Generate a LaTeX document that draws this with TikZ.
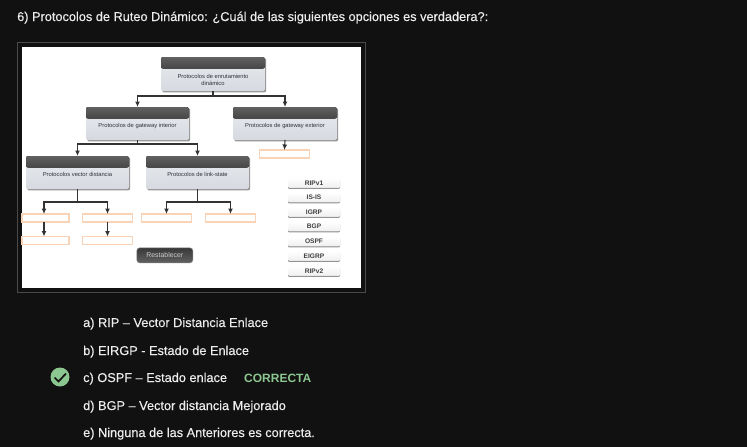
\documentclass[tikz,border=0pt]{standalone}
\usepackage{fontspec}
\setmainfont{Liberation Sans}
\newfontfamily\uifont[FakeBold=0.25]{Liberation Sans}
\usetikzlibrary{arrows.meta,shadings,fadings}
\definecolor{pagebg}{HTML}{111111}
\definecolor{frameline}{HTML}{4A4A4A}
\definecolor{okgreen}{HTML}{8CC690}
\definecolor{inktext}{HTML}{EDEDED}
\definecolor{diagramtext}{HTML}{2E3138}
\definecolor{slotedge}{HTML}{F9D3B8}
\definecolor{bodytop}{HTML}{E8EAEE}
\definecolor{bodybottom}{HTML}{D6DAE0}
\tikzset{
  x=1pt,y=-1pt,
  titlebox/.style={inner sep=0pt,outer sep=0pt,rounded corners=2pt,anchor=north west,
    preaction={fill=black!60,opacity=.7,transform canvas={xshift=1.2pt,yshift=-1.4pt}},
    top color=bodytop,bottom color=bodybottom,
    path picture={\fill[top color=black!62,bottom color=black!92]
      (path picture bounding box.north west) rectangle
      ([yshift=-11.5pt]path picture bounding box.north east);}},
  slot/.style={draw=slotedge,line width=1.5pt,fill=white,inner sep=0pt,outer sep=0pt,anchor=north west},
  tag/.style={inner sep=0pt,outer sep=0pt,anchor=north west,rounded corners=1pt,fill=white,
    top color=white,bottom color=black!6,
    preaction={fill=black!60,opacity=.7,transform canvas={yshift=-1.4pt}},
    font=\fontsize{6.6}{7}\selectfont\bfseries,text=black!75},
  small/.style={font=\fontsize{5.8}{7.2}\selectfont,text=diagramtext,align=center,inner sep=0pt},
  conn/.style={draw=black!80,line width=1.1pt},
  arrowed/.style={conn,-{Latex[length=5.5pt,width=5pt]}},
  qtext/.style={anchor=base west,inner sep=0pt,text=inktext,font=\uifont\fontsize{12.75}{14}\selectfont},
}
\begin{document}
\begin{tikzpicture}
\useasboundingbox (0,0) rectangle (747,447);
\fill[pagebg] (0,0) rectangle (747,447);
\node[qtext] (q) at (17,21) {6) Protocolos de Ruteo Dinámico: ¿Cuál de las siguientes opciones es verdadera?:};
\fill[white] (22,47) rectangle (361,288);
\draw[frameline,line width=1pt] (17.5,42.5) rectangle (365.5,292.5);

\node[slot,minimum width=47pt,minimum height=8pt] (s1) at (22,214) {};
\node[slot,minimum width=50pt,minimum height=8pt] (s2) at (82.5,214) {};
\node[slot,minimum width=50pt,minimum height=8pt] (s3) at (141.5,214) {};
\node[slot,minimum width=50pt,minimum height=8pt] (s4) at (205.5,214) {};
\node[slot,minimum width=47pt,minimum height=8pt] (s5) at (22,236.5) {};
\node[slot,minimum width=50pt,minimum height=8pt] (s6) at (82.5,236.5) {};
\node[slot,minimum width=50pt,minimum height=8pt] (s0) at (259.5,150) {};

\node[titlebox,minimum width=104pt,minimum height=34pt] (top) at (161,57) {};
\node[titlebox,minimum width=103pt,minimum height=33pt] (int) at (86,107) {};
\node[titlebox,minimum width=104pt,minimum height=33pt] (ext) at (233,107) {};
\node[titlebox,minimum width=103pt,minimum height=33pt] (vec) at (26,156) {};
\node[titlebox,minimum width=103pt,minimum height=33pt] (lnk) at (146,156) {};
\node[small] (topt) at (213,80) {Protocolos de enrutamiento\\dinámico};
\node[small] (intt) at (137.5,125.5) {Protocolos de gateway interior};
\node[small] (extt) at (285,125.5) {Protocolos de gateway exterior};
\node[small] (vect) at (77.5,174) {Protocolos vector distancia};
\node[small] (lnkt) at (197.5,174) {Protocolos de link-state};

\draw[conn] (top.south) -- ++(0,5) coordinate (b1);
\draw[arrowed] (b1) -| (int.north);
\draw[arrowed] (b1) -| (ext.north);
\draw[conn] (int.south) -- ++(0,4) coordinate (b2);
\draw[arrowed] (b2) -| (vec.north);
\draw[arrowed] (b2) -| (lnk.north);
\draw[arrowed] (ext.south) -- (s0.north);
\draw[conn] (vec.south) -- ++(0,13) coordinate (b3);
\draw[arrowed] (b3) -| ([xshift=-1.5pt]s1.north);
\draw[arrowed] (b3) -| (s2.north);
\draw[conn] (lnk.south) -- ++(0,13) coordinate (b4);
\draw[arrowed] (b4) -| (s3.north);
\draw[arrowed] (b4) -| (s4.north);
\draw[arrowed] ([xshift=-1.5pt]s1.south) -- ([xshift=-1.5pt]s5.north);
\draw[arrowed] (s2.south) -- (s6.north);

\node[anchor=north west,inner sep=0pt,rounded corners=3pt,draw=black!50,line width=.6pt,
  top color=black!78,bottom color=black!62,minimum width=56pt,minimum height=15pt,
  text=white!80!black,font=\fontsize{6.9}{8}\selectfont] (reset) at (136.5,247.5) {Restablecer};

\foreach \n/\t/\yy in {t1/RIPv1/178,t2/IS-IS/192.5,t3/IGRP/207,t4/BGP/221.5,t5/OSPF/236.5,t6/EIGRP/251,t7/RIPv2/266}{
  \node[tag,minimum width=52pt,minimum height=9.5pt] (\n) at (288,\yy) {\t};
}

\node[qtext] (a) at (83,327) {a) RIP – Vector Distancia Enlace};
\node[qtext] (b) at (83,355) {b) EIRGP - Estado de Enlace};
\node[qtext] (c) at (83,382) {c) OSPF – Estado enlace};
\node[qtext,text=okgreen,font=\fontsize{12}{14}\selectfont\bfseries] (ok) at (244,382) {CORRECTA};
\node[qtext] (d) at (83,410) {d) BGP – Vector distancia Mejorado};
\node[qtext] (e) at (83,437) {e) Ninguna de las Anteriores es correcta.};

\fill[okgreen] (60,377) circle (9.5);
\draw[pagebg,line width=1.7pt] (54.5,377.5) -- (58.5,381.5) -- (66,373.5);
\end{tikzpicture}
\end{document}
